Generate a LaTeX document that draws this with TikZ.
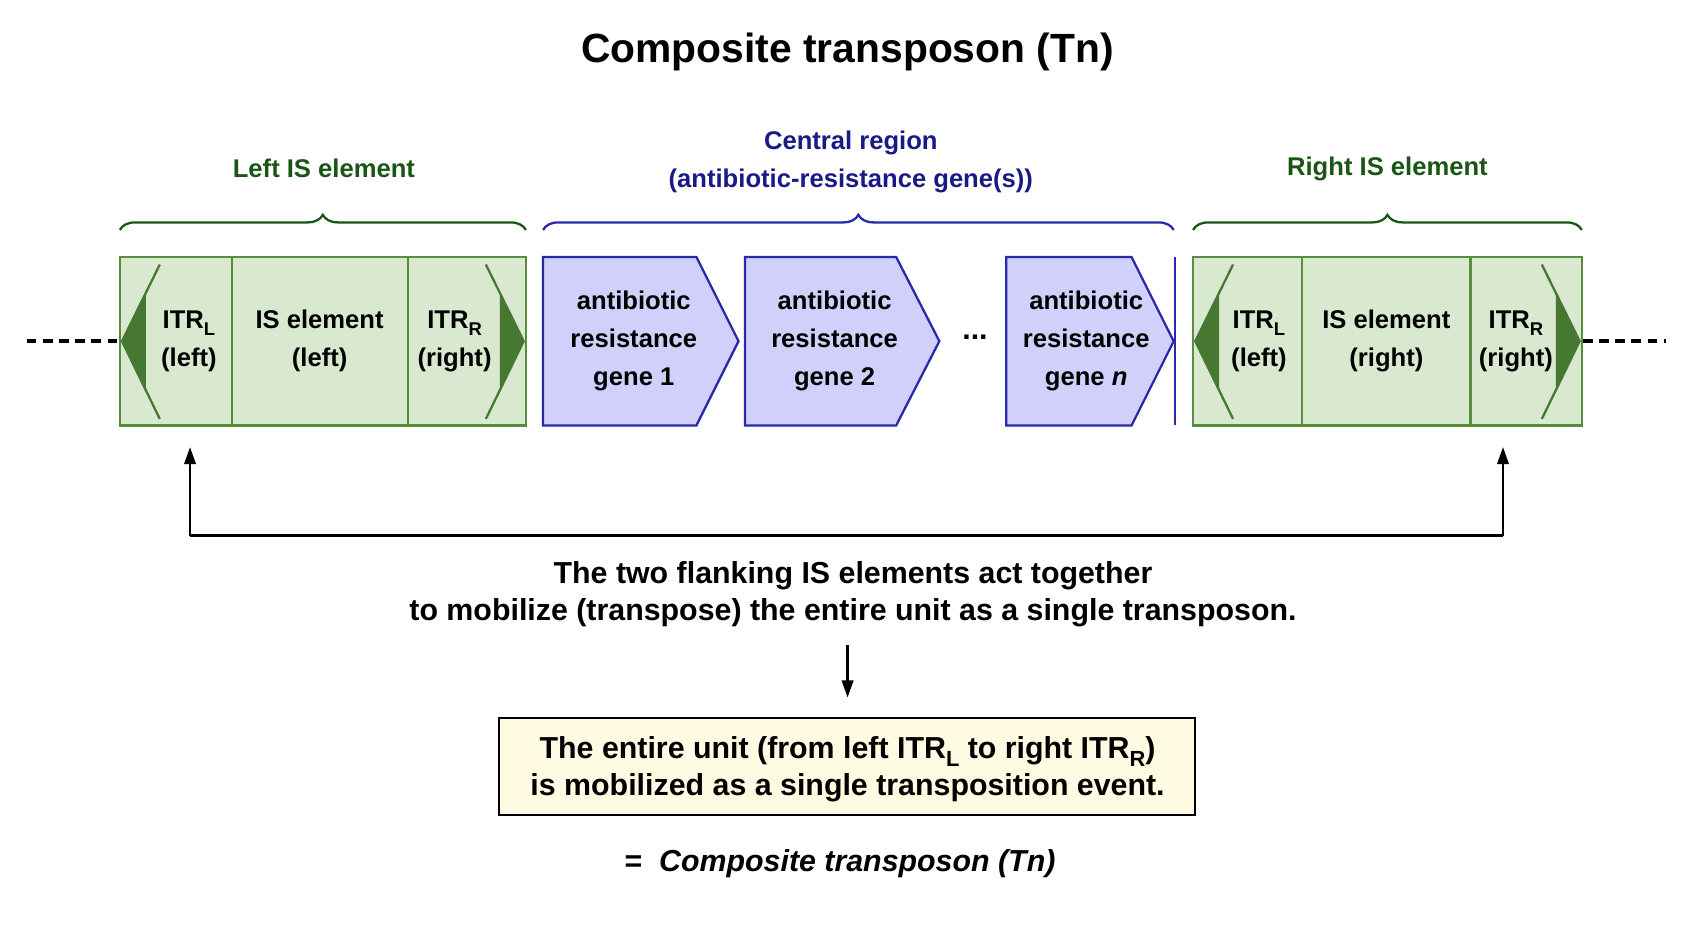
\documentclass[tikz,border=0pt]{standalone}
\usepackage{fontspec}
\setmainfont{Liberation Sans}
\usetikzlibrary{decorations.pathreplacing,arrows.meta}
\definecolor{gfill}{RGB}{216,233,208}
\definecolor{gline}{RGB}{88,140,62}
\definecolor{gdark}{RGB}{70,120,50}
\definecolor{gtext}{RGB}{25,85,20}
\definecolor{bfill}{RGB}{208,208,250}
\definecolor{bline}{RGB}{40,40,170}
\definecolor{btext}{RGB}{25,25,135}
\definecolor{yfill}{RGB}{255,250,226}
\newcommand{\sbs}[1]{\raisebox{-0.5ex}{\scalebox{0.72}{#1}}}
\begin{document}
\begin{tikzpicture}[x=0.02cm,y=-0.02cm,
  txt/.style={font=\fontsize{13.5}{20}\selectfont\bfseries,align=center,inner sep=0pt},
  big/.style={font=\fontsize{16}{19.5}\selectfont\bfseries,align=center,inner sep=0pt},
  gbox/.style={draw=gline,fill=gfill,line width=1.3pt},
  gene/.style={draw=bline,fill=bfill,line width=1.2pt},
  brace/.style={decorate,decoration={brace,amplitude=8pt},line width=1.2pt},
  arr/.style={-{Triangle[length=9pt,width=6pt]},line width=1.3pt}]
\useasboundingbox (0,0) rectangle (1568,860);
\node[txt,font=\fontsize{21.5}{24}\selectfont\bfseries] (title) at (785,48) {Composite transposon (Tn)};
% dashed ends
\coordinate (dl) at (25,316); \coordinate (dr) at (1543,316);
% left IS box
\node[gbox,minimum width=376*0.02cm,minimum height=156*0.02cm,inner sep=0] (LB) at (299,316) {};
\draw[gline,line width=1.3pt] (215,238)--(215,394) (378,238)--(378,394);
\node[gbox,minimum width=360*0.02cm,minimum height=156*0.02cm,inner sep=0] (RB) at (1285,316) {};
\draw[gline,line width=1.3pt] (1206,238)--(1206,394) (1362,238)--(1362,394);
\draw[line width=1.8pt,dash pattern=on 5pt off 3.5pt] (dl)--(LB.west);
\draw[line width=1.8pt,dash pattern=on 5pt off 3.5pt] (RB.east)--(dr);
% ITR wedges
\foreach \x/\s in {113/1,1107/1,485/-1,1463/-1}{
  \fill[gdark] (\x,316)--(\x+\s*22,270)--(\x+\s*22,362)--cycle;
  \draw[gdark,line width=1.2pt] (\x+\s*35,245)--(\x,316)--(\x+\s*35,388);
}
\node[txt] (l1) at (175,316) {ITR\sbs{L}\\(left)};
\node[txt] (l2) at (296,316) {IS element\\(left)};
\node[txt] (l3) at (421,316) {ITR\sbs{R}\\(right)};
\node[txt] (r1) at (1166,316) {ITR\sbs{L}\\(left)};
\node[txt] (r2) at (1284,316) {IS element\\(right)};
\node[txt] (r3) at (1404,316) {ITR\sbs{R}\\(right)};
% genes
\draw[gene] (503,238)--(645,238)--(684,316)--(645,394)--(503,394)--cycle;
\draw[gene] (690,238)--(830,238)--(870,316)--(830,394)--(690,394)--cycle;
\draw[gene] (932,238)--(1048,238)--(1087,316)--(1048,394)--(932,394)--cycle;
\draw[bline,line width=1.2pt] (1088,238)--(1088,394);
\node[txt] (g1) at (587,316) {antibiotic\\resistance\\gene 1};
\node[txt] (g2) at (773,316) {antibiotic\\resistance\\gene 2};
\node[txt] (gn) at (1006,316) {antibiotic\\resistance\\gene \textit{n}};
\node[txt,font=\fontsize{16}{20}\selectfont\bfseries] (dots) at (903,312) {...};
% braces
\draw[brace,gtext] (111,213)--(487,213);
\draw[brace,bline] (503,213)--(1087,213);
\draw[brace,gtext] (1105,213)--(1465,213);
\node[txt,text=gtext] (lis) at (300,156) {Left IS element};
\node[txt,text=btext] (cr) at (788,150) {Central region\\(antibiotic-resistance gene(s))};
\node[txt,text=gtext] (ris) at (1285,156) {Right IS element};
% arrows
\coordinate (a1) at (176,496); \coordinate (a2) at (1392,496);
\coordinate (t1) at (176,414); \coordinate (t2) at (1392,414);
\draw[line width=1.3pt] (a1)--(a2);
\draw[arr] (a1)--(t1);
\draw[arr] (a2)--(t2);
\node[big] (mob) at (790,550) {The two flanking IS elements act together\\to mobilize (transpose) the entire unit as a single transposon.};
\node[draw,line width=1.3pt,fill=yfill,minimum width=645*0.02cm,minimum height=90*0.02cm,inner sep=0] (box) at (784.5,710) {};
\node[big] (bt) at (785,712) {The entire unit (from left ITR\sbs{L} to right ITR\sbs{R})\\is mobilized as a single transposition event.};
\coordinate (d1) at (785,597);
\draw[arr] (d1)--(785,646);
\node[big] (eq) at (778,800) {=\ \ \textit{Composite transposon (Tn)}};
\end{tikzpicture}
\end{document}
